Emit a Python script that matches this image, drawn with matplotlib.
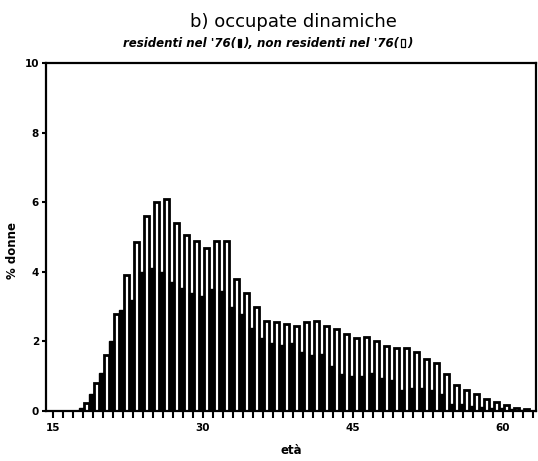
import numpy as np
import matplotlib
matplotlib.use("Agg")
import matplotlib.pyplot as plt
from matplotlib.ticker import MultipleLocator
from matplotlib.offsetbox import TextArea, HPacker, AnnotationBbox, DrawingArea
from matplotlib.patches import Rectangle

# età (anni)
eta = list(range(18, 63))

# residenti nel '76 (barre piene), % donne
residenti = [0.1, 0.5, 1.1, 2.0, 2.9, 3.2, 4.0, 4.1, 4.0, 3.7,
             3.55, 3.4, 3.3, 3.5, 3.45, 3.0, 2.8, 2.4, 2.1, 1.95,
             1.9, 1.95, 1.7, 1.6, 1.65, 1.3, 1.05, 1.0, 1.0, 1.1,
             0.95, 0.9, 0.6, 0.65, 0.65, 0.6, 0.5, 0.2, 0.2, 0.15,
             0.12, 0.1, 0.08, 0.05, 0.03]

# non residenti nel '76 (barre vuote), % donne
non_residenti = [0.22, 0.8, 1.6, 2.8, 3.9, 4.86, 5.6, 6.0, 6.1, 5.4,
                 5.05, 4.9, 4.7, 4.9, 4.9, 3.8, 3.4, 3.0, 2.6, 2.55,
                 2.5, 2.45, 2.55, 2.6, 2.45, 2.35, 2.2, 2.1, 2.12, 2.0,
                 1.87, 1.8, 1.8, 1.7, 1.5, 1.38, 1.07, 0.75, 0.6, 0.5,
                 0.35, 0.26, 0.17, 0.08, 0.05]

x_labels = [15, 30, 45, 60]
y_labels = [0, 2, 4, 6, 8, 10]

fig = plt.figure(figsize=(5.38, 4.61), dpi=100)
ax = fig.add_axes([0.0855, 0.1085, 0.9105, 0.7545])

x = np.array(eta, dtype=float)
w = 0.5
ax.bar(x + 0.4, non_residenti, width=w, facecolor="white", edgecolor="black",
       linewidth=2.0, zorder=2)
ax.bar(x - 0.1, residenti, width=w, facecolor="black", edgecolor="black",
       linewidth=1.0, zorder=3)

ax.set_xlim(14.3, 63.3)
ax.set_ylim(0, 10)
ax.set_xticks(x_labels)
ax.xaxis.set_minor_locator(MultipleLocator(1))
ax.set_yticks(y_labels)
ax.tick_params(axis="x", which="both", direction="out", length=5, width=1.5)
ax.tick_params(axis="y", direction="out", length=3, width=1.5, pad=2)
for s in ax.spines.values():
    s.set_linewidth(1.6)

for lab in ax.get_xticklabels() + ax.get_yticklabels():
    lab.set_fontsize(7.5)
    lab.set_fontweight("bold")

ax.set_xlabel("età", fontsize=8.5, fontweight="bold", labelpad=8)
ax.set_ylabel("% donne", fontsize=8.5, fontweight="bold")
ax.yaxis.set_label_coords(-0.055, 0.46)

fig.text(0.545, 0.952, "b) occupate dinamiche", ha="center", va="center",
         fontsize=13)

# sottotitolo a pezzi, i simboli delle barre disegnati come piccoli rettangoli
bi = dict(fontsize=8.5, fontweight="bold", fontstyle="italic")


def simbolo(pieno):
    da = DrawingArea(4.5, 6.2, 0, 0)
    da.add_artist(Rectangle((1, 0), 2.5, 6.2,
                            facecolor="black" if pieno else "white",
                            edgecolor="black", linewidth=0.9))
    return da


parti = [TextArea("residenti nel '76(", textprops=bi),
         simbolo(True),
         TextArea("), non residenti nel '76(", textprops=bi),
         simbolo(False),
         TextArea(")", textprops=bi)]
riga = HPacker(children=parti, align="baseline", pad=0, sep=0.5)
ab = AnnotationBbox(riga, (0.497, 0.905), xycoords="figure fraction",
                    frameon=False, box_alignment=(0.5, 0.5))
fig.add_artist(ab)

fig.savefig("out.png", dpi=100)
